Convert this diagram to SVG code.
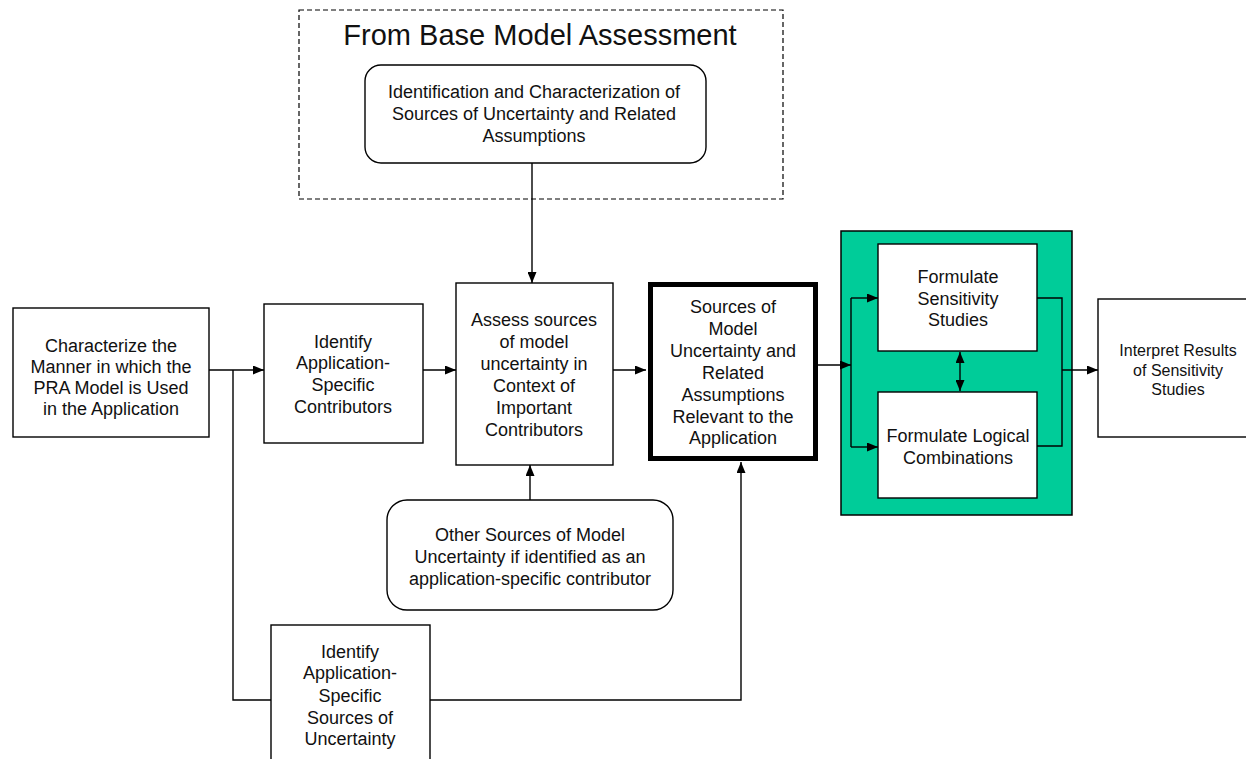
<svg xmlns="http://www.w3.org/2000/svg" width="1246" height="759" viewBox="0 0 1246 759">
<defs>
<marker id="ah" markerUnits="userSpaceOnUse" markerWidth="11" markerHeight="9" refX="11" refY="4.5" orient="auto-start-reverse">
<path d="M0,0 L11,4.5 L0,9 z" fill="#000"/>
</marker>
<style>
.box{fill:#fff;stroke:#000;stroke-width:1.4}
.t{font-family:"Liberation Sans",Arial,sans-serif;font-size:18px;fill:#111;text-anchor:middle;dominant-baseline:central}
.c{fill:none;stroke:#000;stroke-width:1.4}
.a{marker-end:url(#ah)}
</style>
</defs>
<rect width="1246" height="759" fill="#fff"/>

<g id="base-model-assessment">
<rect x="299" y="10" width="484" height="189" fill="none" stroke="#000" stroke-width="1.2" stroke-dasharray="5,3"/>
<text x="540" y="35" class="t" style="font-size:29px">From Base Model Assessment</text>
</g>

<g id="connectors">
<line class="c a" x1="532" y1="163" x2="532" y2="283"/>
<line class="c a" x1="209" y1="370" x2="264" y2="370"/>
<line class="c a" x1="423" y1="370" x2="456" y2="370"/>
<line class="c a" x1="613" y1="370" x2="646" y2="370"/>
<line class="c a" x1="530" y1="500" x2="530" y2="465"/>
<path class="c a" d="M233,370 V700 H741 V462"/>
</g>

<g id="green-group">
<rect x="841" y="231" width="231" height="284" fill="#00CC99" stroke="#000" stroke-width="1.5"/>
</g>

<g id="inner-connectors">
<line class="c a" x1="818" y1="365" x2="851" y2="365"/>
<path class="c" d="M851,298 V447"/>
<line class="c a" x1="851" y1="298" x2="878" y2="298"/>
<line class="c a" x1="851" y1="447" x2="878" y2="447"/>
<path class="c" d="M1037,298 H1062 V446 H1037"/>
<line class="c a" x1="1062" y1="370" x2="1098" y2="370"/>
<line class="c a" x1="960" y1="352" x2="960" y2="391" style="marker-start:url(#ah)"/>
</g>

<g id="identification">
<rect class="box" x="365" y="65" width="341" height="98" rx="16"/>
<text class="t" x="534" y="92">Identification and Characterization of</text>
<text class="t" x="534" y="114">Sources of Uncertainty and Related</text>
<text class="t" x="534" y="136">Assumptions</text>
</g>

<g id="characterize">
<rect class="box" x="13" y="308" width="196" height="129"/>
<text class="t" x="111" y="346">Characterize the</text>
<text class="t" x="111" y="367">Manner in which the</text>
<text class="t" x="111" y="388">PRA Model is Used</text>
<text class="t" x="111" y="409">in the Application</text>
</g>

<g id="identify-contributors">
<rect class="box" x="264" y="304" width="159" height="139"/>
<text class="t" x="343" y="342">Identify</text>
<text class="t" x="343" y="363">Application-</text>
<text class="t" x="343" y="385">Specific</text>
<text class="t" x="343" y="407">Contributors</text>
</g>

<g id="assess">
<rect class="box" x="456" y="283" width="157" height="182"/>
<text class="t" x="534" y="320">Assess sources</text>
<text class="t" x="534" y="342">of model</text>
<text class="t" x="534" y="364">uncertainty in</text>
<text class="t" x="534" y="386">Context of</text>
<text class="t" x="534" y="408">Important</text>
<text class="t" x="534" y="430">Contributors</text>
</g>

<g id="sources-relevant">
<rect x="650.5" y="284.5" width="165" height="174" fill="#fff" stroke="#000" stroke-width="5"/>
<text class="t" x="733" y="307">Sources of</text>
<text class="t" x="733" y="329">Model</text>
<text class="t" x="733" y="351">Uncertainty and</text>
<text class="t" x="733" y="373">Related</text>
<text class="t" x="733" y="395">Assumptions</text>
<text class="t" x="733" y="417">Relevant to the</text>
<text class="t" x="733" y="438">Application</text>
</g>

<g id="formulate-sensitivity">
<rect class="box" x="878" y="244" width="159" height="107"/>
<text class="t" x="958" y="277">Formulate</text>
<text class="t" x="958" y="299">Sensitivity</text>
<text class="t" x="958" y="320">Studies</text>
</g>

<g id="formulate-logical">
<rect class="box" x="878" y="392" width="159" height="106"/>
<text class="t" x="958" y="436">Formulate Logical</text>
<text class="t" x="958" y="458">Combinations</text>
</g>

<g id="interpret">
<rect class="box" x="1098" y="299" width="160" height="138"/>
<text class="t" x="1178" y="350" style="font-size:16px">Interpret Results</text>
<text class="t" x="1178" y="370" style="font-size:16px">of Sensitivity</text>
<text class="t" x="1178" y="389" style="font-size:16px">Studies</text>
</g>

<g id="other-sources">
<rect class="box" x="387" y="500" width="286" height="110" rx="20"/>
<text class="t" x="530" y="535">Other Sources of Model</text>
<text class="t" x="530" y="557">Uncertainty if identified as an</text>
<text class="t" x="530" y="579">application-specific contributor</text>
</g>

<g id="identify-sources">
<rect class="box" x="271" y="625" width="159" height="145"/>
<text class="t" x="350" y="652">Identify</text>
<text class="t" x="350" y="673">Application-</text>
<text class="t" x="350" y="696">Specific</text>
<text class="t" x="350" y="718">Sources of</text>
<text class="t" x="350" y="739">Uncertainty</text>
</g>
</svg>
